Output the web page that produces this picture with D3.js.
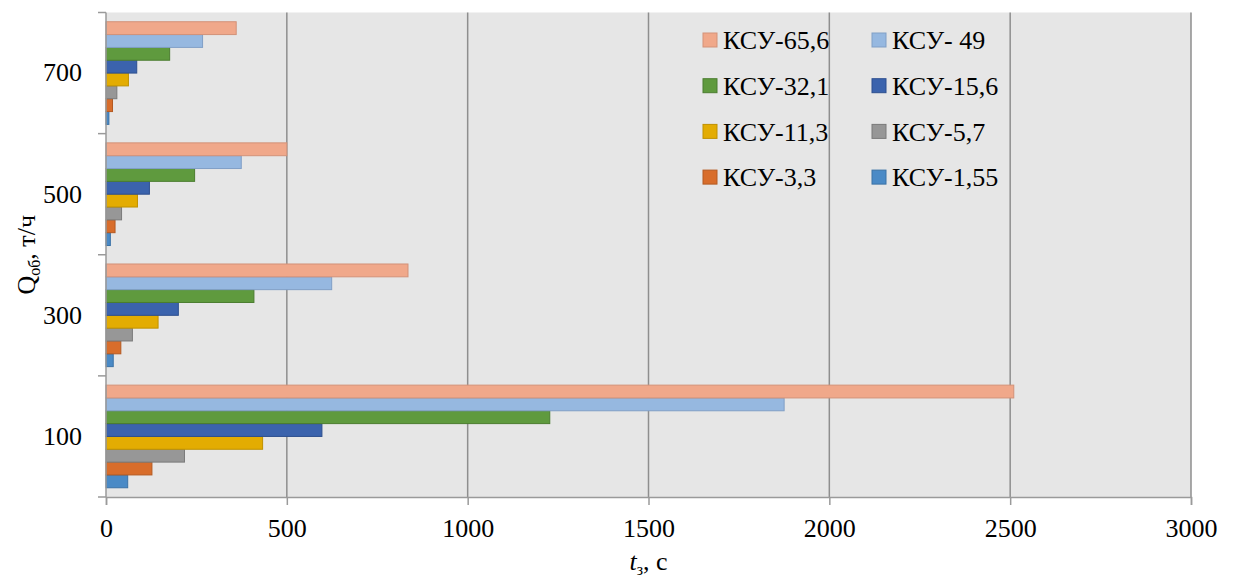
<!DOCTYPE html>
<html>
<head>
<meta charset="utf-8">
<script src="https://cdn.jsdelivr.net/npm/d3@7/dist/d3.min.js"></script>
<style>
  html, body { margin: 0; padding: 0; background: #ffffff; }
  svg { display: block; }
  text { font-family: "Liberation Serif", "Times New Roman", serif; fill: #000; }
</style>
</head>
<body>
<svg id="chart" width="1233" height="577"></svg>
<script>
// Flow rate categories (т/ч), bottom to top
const categories = ["100", "300", "500", "700"];

// Series, first one drawn at the bottom of each group
const seriesNames = ["КСУ-1,55", "КСУ-3,3", "КСУ-5,7", "КСУ-11,3", "КСУ-15,6", "КСУ-32,1", "КСУ- 49", "КСУ-65,6"];

// Time values t_з (s) per series, in category order 100, 300, 500, 700
const ksu155 = [60, 20, 12, 8];
const ksu33  = [127, 41, 25, 18];
const ksu57  = [217, 73, 43, 30];
const ksu113 = [433, 144, 87, 62];
const ksu156 = [597, 200, 120, 85];
const ksu321 = [1227, 409, 245, 176];
const ksu49  = [1875, 624, 374, 267];
const ksu656 = [2510, 835, 500, 360];
const seriesValues = [ksu155, ksu33, ksu57, ksu113, ksu156, ksu321, ksu49, ksu656];

const xTicks = [0, 500, 1000, 1500, 2000, 2500, 3000];

const fills   = ["#4a8ac6", "#d86d2b", "#979797", "#e3ac02", "#3b63ad", "#5f9a3e", "#96b8e0", "#f0a88a"];
const strokes = ["#3b72a6", "#b45a22", "#7a7a7a", "#bf9100", "#2d4f8f", "#4b7d30", "#809fc6", "#d39278"];

const svg = d3.select("#chart");
const plot = { left: 106, right: 1191, top: 12.5, bottom: 497 };
const fontSize = "26px";

const x = d3.scaleLinear().domain([0, 3000]).range([plot.left, plot.right]);
const y = d3.scaleBand().domain(categories).range([plot.bottom, plot.top]).paddingInner(0).paddingOuter(0);
const ySub = d3.scaleBand().domain(seriesNames.slice().reverse()).range([0, y.bandwidth()])
  .paddingInner(0).paddingOuter(0.72);

// Plot background
svg.append("rect")
  .attr("x", plot.left).attr("y", plot.top)
  .attr("width", plot.right - plot.left).attr("height", plot.bottom - plot.top)
  .attr("fill", "#e6e6e6");

// Vertical gridlines
svg.append("g").selectAll("line")
  .data(xTicks.filter(d => d > 0))
  .join("line")
  .attr("x1", d => x(d)).attr("x2", d => x(d))
  .attr("y1", plot.top).attr("y2", plot.bottom)
  .attr("stroke", "#8e8e8e").attr("stroke-width", 1.5);

// Bars
const rows = [];
seriesNames.forEach((s, si) => {
  categories.forEach((c, ci) => rows.push({ s, si, c, v: seriesValues[si][ci] }));
});
svg.append("g").selectAll("rect")
  .data(rows)
  .join("rect")
  .attr("x", x(0))
  .attr("y", d => y(d.c) + ySub(d.s))
  .attr("width", d => x(d.v) - x(0))
  .attr("height", ySub.bandwidth())
  .attr("fill", d => fills[d.si])
  .attr("stroke", d => strokes[d.si])
  .attr("stroke-width", 1);

// X axis
const xAxis = svg.append("g")
  .attr("transform", `translate(0,${plot.bottom})`)
  .call(d3.axisBottom(x).tickValues(xTicks).tickSize(8).tickPadding(14).tickFormat(d3.format("d")));
xAxis.select(".domain").attr("stroke", "#9a9a9a").attr("stroke-width", 1.5);
xAxis.selectAll(".tick line").attr("stroke", "#9a9a9a").attr("stroke-width", 1.5);
xAxis.selectAll(".tick text").style("font-size", fontSize).style("font-family", "Liberation Serif").attr("fill", "#000");

// Y axis: labels centred on each band, ticks on band boundaries
const yAxis = svg.append("g")
  .attr("transform", `translate(${plot.left},0)`)
  .call(d3.axisLeft(y).tickSize(0).tickPadding(24));
yAxis.select(".domain").remove();
yAxis.selectAll(".tick text").style("font-size", fontSize).style("font-family", "Liberation Serif").attr("fill", "#000");

const bounds = categories.map(c => y(c)).concat([y(categories[0]) + y.bandwidth()]);
svg.append("g").selectAll("line")
  .data(bounds)
  .join("line")
  .attr("x1", plot.left - 8).attr("x2", plot.left)
  .attr("y1", d => d).attr("y2", d => d)
  .attr("stroke", "#9a9a9a").attr("stroke-width", 1.5);
svg.append("line")
  .attr("x1", plot.left).attr("x2", plot.left)
  .attr("y1", plot.top).attr("y2", plot.bottom)
  .attr("stroke", "#9a9a9a").attr("stroke-width", 1.5);

// Axis titles
const xTitle = svg.append("text")
  .attr("x", (plot.left + plot.right) / 2).attr("y", 570)
  .attr("text-anchor", "middle")
  .style("font-size", fontSize);
xTitle.append("tspan").style("font-style", "italic").text("t");
xTitle.append("tspan").style("font-size", "16px").attr("dy", 5).text("з");
xTitle.append("tspan").attr("dy", -5).text(", с");

const yTitle = svg.append("text")
  .attr("transform", `translate(35,${(plot.top + plot.bottom) / 2}) rotate(-90)`)
  .attr("text-anchor", "middle")
  .style("font-size", fontSize);
yTitle.append("tspan").text("Q");
yTitle.append("tspan").style("font-size", "16px").attr("dy", 5).text("об");
yTitle.append("tspan").attr("dy", -5).text(", т/ч");

// Legend: two columns, series listed from the last one
const legendOrder = seriesNames.map((s, i) => i).reverse();
const legend = svg.append("g");
legendOrder.forEach((si, k) => {
  const col = k % 2, row = Math.floor(k / 2);
  const lx = col === 0 ? 703 : 872;
  const ly = 40 + row * 45.7;
  legend.append("rect")
    .attr("x", lx).attr("y", ly - 7)
    .attr("width", 14).attr("height", 14)
    .attr("fill", fills[si]).attr("stroke", strokes[si]).attr("stroke-width", 1);
  legend.append("text")
    .attr("x", lx + 20).attr("y", ly)
    .attr("dy", "0.35em")
    .style("font-size", fontSize)
    .text(seriesNames[si]);
});
</script>
</body>
</html>
